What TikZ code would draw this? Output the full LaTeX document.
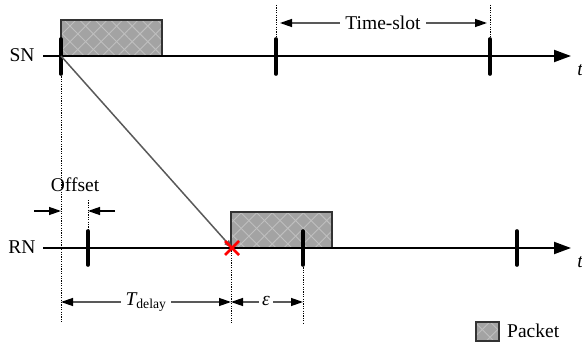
\documentclass[tikz,border=0pt]{standalone}
\usepackage{fontspec}
\setmainfont{Liberation Serif}
\usetikzlibrary{arrows.meta,patterns.meta,calc}
\begin{document}
\begin{tikzpicture}[x=1pt,y=-1pt,
  font=\fontsize{19.5}{22}\selectfont,
  axis/.style={line width=2pt,-{Triangle[length=17pt,width=12pt]}},
  tickmark/.style={line width=3.6pt,line cap=round},
  guide/.style={line width=0.9pt,dash pattern=on 1.2pt off 1.2pt},
  dimline/.style={line width=1.3pt,draw=black!65,
    {Triangle[length=12pt,width=8pt,color=black]}-{Triangle[length=12pt,width=8pt,color=black]}},
  onearrow/.style={line width=1.3pt,draw=black,-{Triangle[length=12pt,width=8pt]}},
  packetbox/.style={draw=black!80,line width=1.2pt,
    preaction={fill=gray!72},
    preaction={pattern={Lines[angle=45,distance=11pt,line width=0.9pt]},pattern color=gray!50},
    pattern={Lines[angle=-45,distance=11pt,line width=0.9pt]},pattern color=gray!50},
  lbl/.style={inner sep=1pt}
]
\useasboundingbox (0,0) rectangle (582,345);

% coordinates
\coordinate (snS) at (43,56);
\coordinate (snE) at (571,56);
\coordinate (rnS) at (43,248);
\coordinate (rnE) at (571,248);
\coordinate (sn1) at (61,56);
\coordinate (sn2) at (276,56);
\coordinate (sn3) at (490,56);
\coordinate (rn1) at (88,248);
\coordinate (rn2) at (303,248);
\coordinate (rn3) at (517,248);
\coordinate (hit) at (232,248);

% packets
\draw[packetbox] (61,20) rectangle (162,56);
\draw[packetbox] (231,212) rectangle (332,248);

% guides
\draw[guide] (61,74) -- (61,323);
\draw[guide] (276,5) -- (276,39);
\draw[guide] (490,5) -- (490,39);
\draw[guide] (88,200) -- (88,231);
\draw[guide] (231,248) -- (231,323);
\draw[guide] (303,265) -- (303,323);

% axes
\draw[axis] (snS) -- (snE);
\draw[axis] (rnS) -- (rnE);

\node[lbl] (snl) at (22,55) {SN};
\node[lbl] (rnl) at (22,247) {RN};
\node[lbl] (t1) at (580,70) {\itshape t};
\node[lbl] (t2) at (580,262) {\itshape t};

% ticks
\foreach \p in {sn1,sn2,sn3} \draw[tickmark] ($(\p)+(0,-17)$) -- ($(\p)+(0,18)$);
\foreach \p in {rn1,rn2,rn3} \draw[tickmark] ($(\p)+(0,-17)$) -- ($(\p)+(0,17)$);

% propagation
\draw[line width=1.5pt,draw=black!65,-{Triangle[length=8pt,width=6pt]}] (sn1) -- (hit);
\draw[red,line width=2.6pt] ($(hit)+(-7,-7)$) -- ($(hit)+(7,7)$)
  ($(hit)+(-7,7)$) -- ($(hit)+(7,-7)$);

% time-slot
\draw[dimline] (280,23) -- (487,23);
\node[lbl,fill=white,inner xsep=5pt] (ts) at (383,23) {Time-slot};

% offset
\node[lbl] (off) at (75,185) {Offset};
\draw[onearrow] (34,211) -- (61,211);
\draw[onearrow] (115,211) -- (88,211);

% delay / epsilon
\draw[dimline] (61,302) -- (231,302);
\node[lbl,fill=white,inner xsep=5pt] (td) at (146,302) {\itshape T\textsubscript{\upshape delay}};
\draw[dimline] (231,302) -- (303,302);
\node[lbl,fill=white,inner xsep=3pt] (eps) at (266,301) {\itshape ε};

% legend
\draw[packetbox] (476,322) rectangle (499,341);
\node[lbl,anchor=west] (leg) at (506,331) {Packet};
\end{tikzpicture}
\end{document}
